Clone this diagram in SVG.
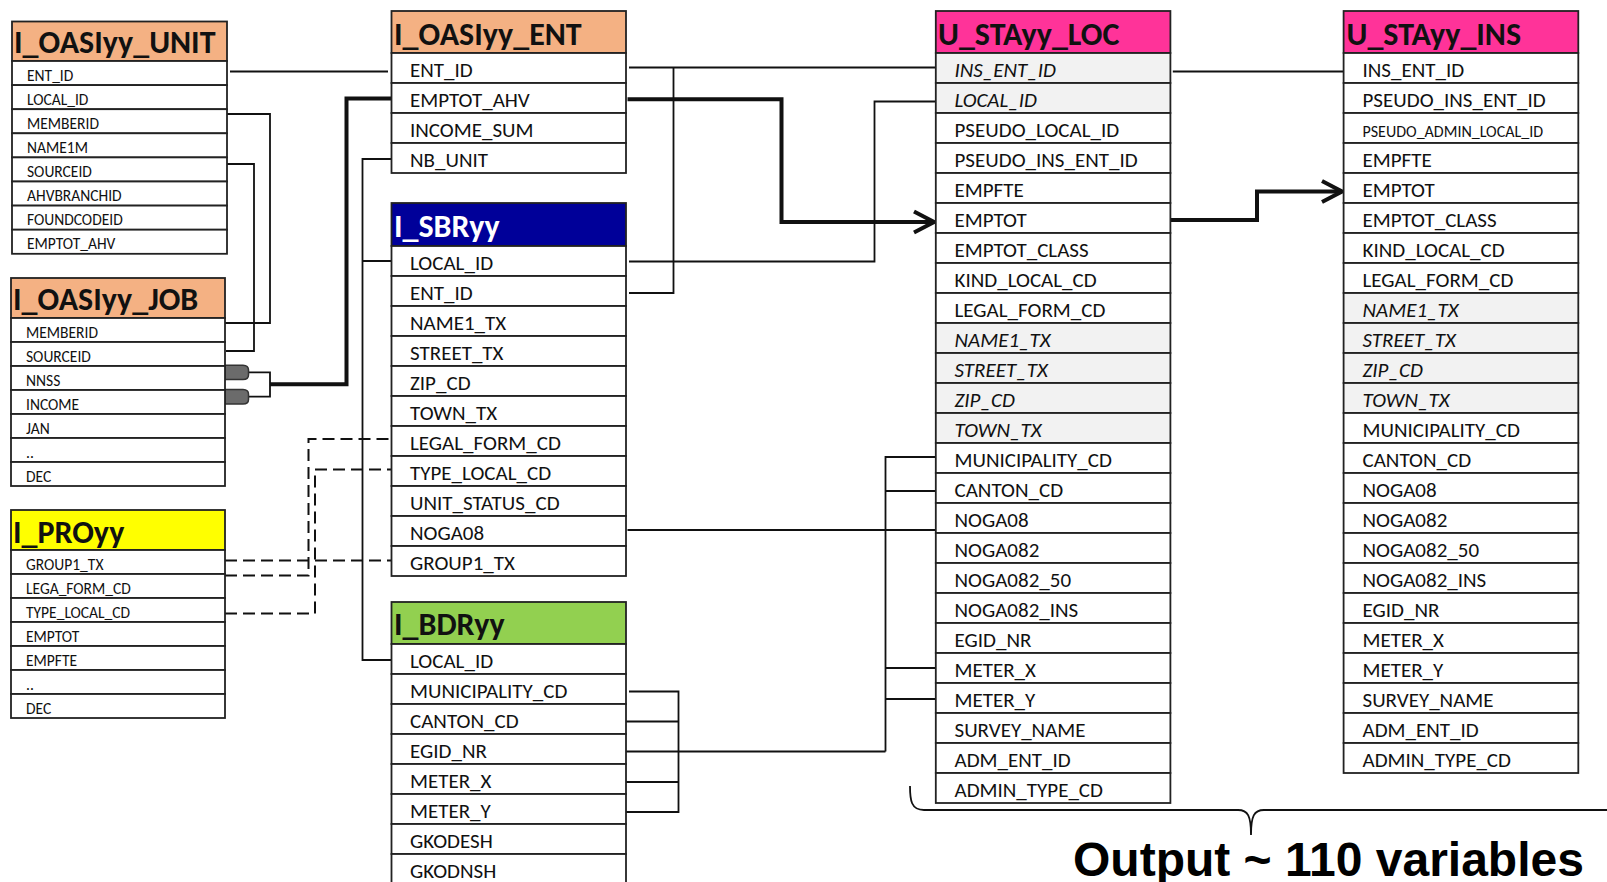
<svg xmlns="http://www.w3.org/2000/svg" width="1607" height="882" viewBox="0 0 1607 882">
<style>
.hd{stroke:#222;stroke-width:1.8}
.cl{fill:#fff;stroke:#222;stroke-width:1.8}
.gr{fill:#f2f2f2}
.t{font-family:Carlito,Lato,"Open Sans",sans-serif;font-size:21px;fill:#111}
.ts{font-size:15.5px}
.ti{font-style:italic}
.h{font-family:Carlito,Lato,"Open Sans",sans-serif;font-weight:bold;font-size:32px;fill:#111}
.c{fill:none;stroke:#111;stroke-width:1.8}
.k{stroke-width:4}
.d{stroke-dasharray:12 6;stroke-width:2}
.tab{fill:#6b6b6b;stroke:#333;stroke-width:1.5}
</style>
<defs>
<marker id="chev" viewBox="0 0 26 26" refX="23" refY="13" markerWidth="26" markerHeight="26" markerUnits="userSpaceOnUse" orient="auto">
<path d="M3,2.5 L23,13 L3,23.5" fill="none" stroke="#111" stroke-width="4"/>
</marker>
</defs>
<rect width="1607" height="882" fill="#fff"/>

<g id="connectors">
<path class="c" d="M230,71.5 H388"/>
<path class="c" d="M226,114 H270 V323 H225"/>
<path class="c" d="M226,164 H254 V351 H226"/>
<path class="c" d="M391.5,159 H362.5 V660 H391.5 M362.5,261 H391.5"/>
<path class="c" d="M629,67.5 H935.8 M673.5,67.5 V293 H629"/>
<path class="c" d="M629,261.5 H874.5 V101.5 H935.8"/>
<path class="c" d="M627.5,530 H935.8"/>
<path class="c" d="M626,751.5 H885.5 M935.8,457 H885.5 V751.5 M885.5,491 H935.8 M885.5,668 H935.8 M885.5,699 H935.8"/>
<path class="c" d="M629,691.5 H678.5 V812 H626 M626,721.5 H678.5 M626,782 H678.5"/>
<path class="c" d="M1172.8,71.5 H1343.6"/>
<path class="c" d="M248,372.3 H270 V396.7 H248"/>
<path class="tab" d="M225,365.3 H243 Q248.5,365.5 248.5,370 V375 Q248.5,379.5 243,379.5 H225 Z"/>
<path class="tab" d="M225,389.5 H243 Q248.5,389.7 248.5,394 V399.5 Q248.5,404 243,404 H225 Z"/>
<path class="c k" d="M270,384.3 H346.5 V98.4 H391.5"/>
<path class="c k" d="M627.5,99.3 H781.5 V222 H934" marker-end="url(#chev)"/>
<path class="c k" d="M1171,220 H1257 V191.5 H1342" marker-end="url(#chev)"/>
<path class="c d" d="M225,560.5 H391.5"/>
<path class="c d" d="M225,575.5 H308.5 V439 H391.5"/>
<path class="c d" d="M225,613.5 H315 V469.5 H391.5"/>
<path class="c" d="M910,786 C910,800 911,810 924,810 H1238 C1248,810 1251,816 1251,835 C1251,816 1254,810 1264,810 H1607" stroke-width="1.6"/>
</g>

<g id="I_OASIyy_UNIT">
<rect class="hd" x="12" y="21.5" width="215" height="39.5" fill="#f4b183"/>
<text class="h" x="14" y="53">I_OASIyy_UNIT</text>
<rect class="cl" x="12" y="61" width="215" height="24.1"/>
<rect class="cl" x="12" y="85.1" width="215" height="24.1"/>
<rect class="cl" x="12" y="109.2" width="215" height="24.1"/>
<rect class="cl" x="12" y="133.3" width="215" height="24.1"/>
<rect class="cl" x="12" y="157.4" width="215" height="24.1"/>
<rect class="cl" x="12" y="181.5" width="215" height="24.1"/>
<rect class="cl" x="12" y="205.6" width="215" height="24.1"/>
<rect class="cl" x="12" y="229.7" width="215" height="24.1"/>
<text class="t ts" x="27" y="80.5">ENT_ID</text>
<text class="t ts" x="27" y="104.6">LOCAL_ID</text>
<text class="t ts" x="27" y="128.7">MEMBERID</text>
<text class="t ts" x="27" y="152.8">NAME1M</text>
<text class="t ts" x="27" y="176.9">SOURCEID</text>
<text class="t ts" x="27" y="201">AHVBRANCHID</text>
<text class="t ts" x="27" y="225.1">FOUNDCODEID</text>
<text class="t ts" x="27" y="249.2">EMPTOT_AHV</text>
</g>

<g id="I_OASIyy_JOB">
<rect class="hd" x="11" y="278" width="214" height="40" fill="#f4b183"/>
<text class="h" x="13" y="310">I_OASIyy_JOB</text>
<rect class="cl" x="11" y="318" width="214" height="24"/>
<rect class="cl" x="11" y="342" width="214" height="24"/>
<rect class="cl" x="11" y="366" width="214" height="24"/>
<rect class="cl" x="11" y="390" width="214" height="24"/>
<rect class="cl" x="11" y="414" width="214" height="24"/>
<rect class="cl" x="11" y="438" width="214" height="24"/>
<rect class="cl" x="11" y="462" width="214" height="24"/>
<text class="t ts" x="26" y="337.5">MEMBERID</text>
<text class="t ts" x="26" y="361.5">SOURCEID</text>
<text class="t ts" x="26" y="385.5">NNSS</text>
<text class="t ts" x="26" y="409.5">INCOME</text>
<text class="t ts" x="26" y="433.5">JAN</text>
<text class="t ts" x="26" y="457.5">..</text>
<text class="t ts" x="26" y="481.5">DEC</text>
</g>

<g id="I_PROyy">
<rect class="hd" x="11" y="510" width="214" height="40" fill="#ffff00"/>
<text class="h" x="13" y="543">I_PROyy</text>
<rect class="cl" x="11" y="550" width="214" height="24"/>
<rect class="cl" x="11" y="574" width="214" height="24"/>
<rect class="cl" x="11" y="598" width="214" height="24"/>
<rect class="cl" x="11" y="622" width="214" height="24"/>
<rect class="cl" x="11" y="646" width="214" height="24"/>
<rect class="cl" x="11" y="670" width="214" height="24"/>
<rect class="cl" x="11" y="694" width="214" height="24"/>
<text class="t ts" x="26" y="569.5">GROUP1_TX</text>
<text class="t ts" x="26" y="593.5">LEGA_FORM_CD</text>
<text class="t ts" x="26" y="617.5">TYPE_LOCAL_CD</text>
<text class="t ts" x="26" y="641.5">EMPTOT</text>
<text class="t ts" x="26" y="665.5">EMPFTE</text>
<text class="t ts" x="26" y="689.5">..</text>
<text class="t ts" x="26" y="713.5">DEC</text>
</g>

<g id="I_OASIyy_ENT">
<rect class="hd" x="391.5" y="11" width="234.5" height="42" fill="#f4b183"/>
<text class="h" x="394" y="45">I_OASIyy_ENT</text>
<rect class="cl" x="391.5" y="53" width="234.5" height="30"/>
<rect class="cl" x="391.5" y="83" width="234.5" height="30"/>
<rect class="cl" x="391.5" y="113" width="234.5" height="30"/>
<rect class="cl" x="391.5" y="143" width="234.5" height="30"/>
<text class="t" x="410" y="77">ENT_ID</text>
<text class="t" x="410" y="107">EMPTOT_AHV</text>
<text class="t" x="410" y="137">INCOME_SUM</text>
<text class="t" x="410" y="167">NB_UNIT</text>
</g>

<g id="I_SBRyy">
<rect class="hd" x="391.5" y="203" width="234.5" height="43" fill="#000099"/>
<text class="h" x="394" y="237" style="fill:#fff">I_SBRyy</text>
<rect class="cl" x="391.5" y="246" width="234.5" height="30"/>
<rect class="cl" x="391.5" y="276" width="234.5" height="30"/>
<rect class="cl" x="391.5" y="306" width="234.5" height="30"/>
<rect class="cl" x="391.5" y="336" width="234.5" height="30"/>
<rect class="cl" x="391.5" y="366" width="234.5" height="30"/>
<rect class="cl" x="391.5" y="396" width="234.5" height="30"/>
<rect class="cl" x="391.5" y="426" width="234.5" height="30"/>
<rect class="cl" x="391.5" y="456" width="234.5" height="30"/>
<rect class="cl" x="391.5" y="486" width="234.5" height="30"/>
<rect class="cl" x="391.5" y="516" width="234.5" height="30"/>
<rect class="cl" x="391.5" y="546" width="234.5" height="30"/>
<text class="t" x="410" y="270">LOCAL_ID</text>
<text class="t" x="410" y="300">ENT_ID</text>
<text class="t" x="410" y="330">NAME1_TX</text>
<text class="t" x="410" y="360">STREET_TX</text>
<text class="t" x="410" y="390">ZIP_CD</text>
<text class="t" x="410" y="420">TOWN_TX</text>
<text class="t" x="410" y="450">LEGAL_FORM_CD</text>
<text class="t" x="410" y="480">TYPE_LOCAL_CD</text>
<text class="t" x="410" y="510">UNIT_STATUS_CD</text>
<text class="t" x="410" y="540">NOGA08</text>
<text class="t" x="410" y="570">GROUP1_TX</text>
</g>

<g id="I_BDRyy">
<rect class="hd" x="391.5" y="602" width="234.5" height="42" fill="#92d050"/>
<text class="h" x="394" y="635">I_BDRyy</text>
<rect class="cl" x="391.5" y="644" width="234.5" height="30"/>
<rect class="cl" x="391.5" y="674" width="234.5" height="30"/>
<rect class="cl" x="391.5" y="704" width="234.5" height="30"/>
<rect class="cl" x="391.5" y="734" width="234.5" height="30"/>
<rect class="cl" x="391.5" y="764" width="234.5" height="30"/>
<rect class="cl" x="391.5" y="794" width="234.5" height="30"/>
<rect class="cl" x="391.5" y="824" width="234.5" height="30"/>
<rect class="cl" x="391.5" y="854" width="234.5" height="30"/>
<text class="t" x="410" y="668">LOCAL_ID</text>
<text class="t" x="410" y="698">MUNICIPALITY_CD</text>
<text class="t" x="410" y="728">CANTON_CD</text>
<text class="t" x="410" y="758">EGID_NR</text>
<text class="t" x="410" y="788">METER_X</text>
<text class="t" x="410" y="818">METER_Y</text>
<text class="t" x="410" y="848">GKODESH</text>
<text class="t" x="410" y="878">GKODNSH</text>
</g>

<g id="U_STAyy_LOC">
<rect class="hd" x="935.8" y="11" width="234.6" height="42" fill="#ff3399"/>
<text class="h" x="938" y="45">U_STAyy_LOC</text>
<rect class="cl gr" x="935.8" y="53" width="234.6" height="30"/>
<rect class="cl gr" x="935.8" y="83" width="234.6" height="30"/>
<rect class="cl" x="935.8" y="113" width="234.6" height="30"/>
<rect class="cl" x="935.8" y="143" width="234.6" height="30"/>
<rect class="cl" x="935.8" y="173" width="234.6" height="30"/>
<rect class="cl" x="935.8" y="203" width="234.6" height="30"/>
<rect class="cl" x="935.8" y="233" width="234.6" height="30"/>
<rect class="cl" x="935.8" y="263" width="234.6" height="30"/>
<rect class="cl" x="935.8" y="293" width="234.6" height="30"/>
<rect class="cl gr" x="935.8" y="323" width="234.6" height="30"/>
<rect class="cl gr" x="935.8" y="353" width="234.6" height="30"/>
<rect class="cl gr" x="935.8" y="383" width="234.6" height="30"/>
<rect class="cl gr" x="935.8" y="413" width="234.6" height="30"/>
<rect class="cl" x="935.8" y="443" width="234.6" height="30"/>
<rect class="cl" x="935.8" y="473" width="234.6" height="30"/>
<rect class="cl" x="935.8" y="503" width="234.6" height="30"/>
<rect class="cl" x="935.8" y="533" width="234.6" height="30"/>
<rect class="cl" x="935.8" y="563" width="234.6" height="30"/>
<rect class="cl" x="935.8" y="593" width="234.6" height="30"/>
<rect class="cl" x="935.8" y="623" width="234.6" height="30"/>
<rect class="cl" x="935.8" y="653" width="234.6" height="30"/>
<rect class="cl" x="935.8" y="683" width="234.6" height="30"/>
<rect class="cl" x="935.8" y="713" width="234.6" height="30"/>
<rect class="cl" x="935.8" y="743" width="234.6" height="30"/>
<rect class="cl" x="935.8" y="773" width="234.6" height="30"/>
<text class="t ti" x="954.5" y="77">INS_ENT_ID</text>
<text class="t ti" x="954.5" y="107">LOCAL_ID</text>
<text class="t" x="954.5" y="137">PSEUDO_LOCAL_ID</text>
<text class="t" x="954.5" y="167">PSEUDO_INS_ENT_ID</text>
<text class="t" x="954.5" y="197">EMPFTE</text>
<text class="t" x="954.5" y="227">EMPTOT</text>
<text class="t" x="954.5" y="257">EMPTOT_CLASS</text>
<text class="t" x="954.5" y="287">KIND_LOCAL_CD</text>
<text class="t" x="954.5" y="317">LEGAL_FORM_CD</text>
<text class="t ti" x="954.5" y="347">NAME1_TX</text>
<text class="t ti" x="954.5" y="377">STREET_TX</text>
<text class="t ti" x="954.5" y="407">ZIP_CD</text>
<text class="t ti" x="954.5" y="437">TOWN_TX</text>
<text class="t" x="954.5" y="467">MUNICIPALITY_CD</text>
<text class="t" x="954.5" y="497">CANTON_CD</text>
<text class="t" x="954.5" y="527">NOGA08</text>
<text class="t" x="954.5" y="557">NOGA082</text>
<text class="t" x="954.5" y="587">NOGA082_50</text>
<text class="t" x="954.5" y="617">NOGA082_INS</text>
<text class="t" x="954.5" y="647">EGID_NR</text>
<text class="t" x="954.5" y="677">METER_X</text>
<text class="t" x="954.5" y="707">METER_Y</text>
<text class="t" x="954.5" y="737">SURVEY_NAME</text>
<text class="t" x="954.5" y="767">ADM_ENT_ID</text>
<text class="t" x="954.5" y="797">ADMIN_TYPE_CD</text>
</g>

<g id="U_STAyy_INS">
<rect class="hd" x="1343.6" y="11" width="234.7" height="42" fill="#ff3399"/>
<text class="h" x="1346.5" y="45">U_STAyy_INS</text>
<rect class="cl" x="1343.6" y="53" width="234.7" height="30"/>
<rect class="cl" x="1343.6" y="83" width="234.7" height="30"/>
<rect class="cl" x="1343.6" y="113" width="234.7" height="30"/>
<rect class="cl" x="1343.6" y="143" width="234.7" height="30"/>
<rect class="cl" x="1343.6" y="173" width="234.7" height="30"/>
<rect class="cl" x="1343.6" y="203" width="234.7" height="30"/>
<rect class="cl" x="1343.6" y="233" width="234.7" height="30"/>
<rect class="cl" x="1343.6" y="263" width="234.7" height="30"/>
<rect class="cl gr" x="1343.6" y="293" width="234.7" height="30"/>
<rect class="cl gr" x="1343.6" y="323" width="234.7" height="30"/>
<rect class="cl gr" x="1343.6" y="353" width="234.7" height="30"/>
<rect class="cl gr" x="1343.6" y="383" width="234.7" height="30"/>
<rect class="cl" x="1343.6" y="413" width="234.7" height="30"/>
<rect class="cl" x="1343.6" y="443" width="234.7" height="30"/>
<rect class="cl" x="1343.6" y="473" width="234.7" height="30"/>
<rect class="cl" x="1343.6" y="503" width="234.7" height="30"/>
<rect class="cl" x="1343.6" y="533" width="234.7" height="30"/>
<rect class="cl" x="1343.6" y="563" width="234.7" height="30"/>
<rect class="cl" x="1343.6" y="593" width="234.7" height="30"/>
<rect class="cl" x="1343.6" y="623" width="234.7" height="30"/>
<rect class="cl" x="1343.6" y="653" width="234.7" height="30"/>
<rect class="cl" x="1343.6" y="683" width="234.7" height="30"/>
<rect class="cl" x="1343.6" y="713" width="234.7" height="30"/>
<rect class="cl" x="1343.6" y="743" width="234.7" height="30"/>
<text class="t" x="1362.5" y="77">INS_ENT_ID</text>
<text class="t" x="1362.5" y="107">PSEUDO_INS_ENT_ID</text>
<text class="t" x="1362.5" y="137" style="font-size:16px">PSEUDO_ADMIN_LOCAL_ID</text>
<text class="t" x="1362.5" y="167">EMPFTE</text>
<text class="t" x="1362.5" y="197">EMPTOT</text>
<text class="t" x="1362.5" y="227">EMPTOT_CLASS</text>
<text class="t" x="1362.5" y="257">KIND_LOCAL_CD</text>
<text class="t" x="1362.5" y="287">LEGAL_FORM_CD</text>
<text class="t ti" x="1362.5" y="317">NAME1_TX</text>
<text class="t ti" x="1362.5" y="347">STREET_TX</text>
<text class="t ti" x="1362.5" y="377">ZIP_CD</text>
<text class="t ti" x="1362.5" y="407">TOWN_TX</text>
<text class="t" x="1362.5" y="437">MUNICIPALITY_CD</text>
<text class="t" x="1362.5" y="467">CANTON_CD</text>
<text class="t" x="1362.5" y="497">NOGA08</text>
<text class="t" x="1362.5" y="527">NOGA082</text>
<text class="t" x="1362.5" y="557">NOGA082_50</text>
<text class="t" x="1362.5" y="587">NOGA082_INS</text>
<text class="t" x="1362.5" y="617">EGID_NR</text>
<text class="t" x="1362.5" y="647">METER_X</text>
<text class="t" x="1362.5" y="677">METER_Y</text>
<text class="t" x="1362.5" y="707">SURVEY_NAME</text>
<text class="t" x="1362.5" y="737">ADM_ENT_ID</text>
<text class="t" x="1362.5" y="767">ADMIN_TYPE_CD</text>
</g>

<g id="output_label">
<text x="1073" y="876" style="font-family:'Liberation Sans',Arial,sans-serif;font-weight:bold;font-size:48px;fill:#000">Output ~ 110 variables</text>
</g>
</svg>
